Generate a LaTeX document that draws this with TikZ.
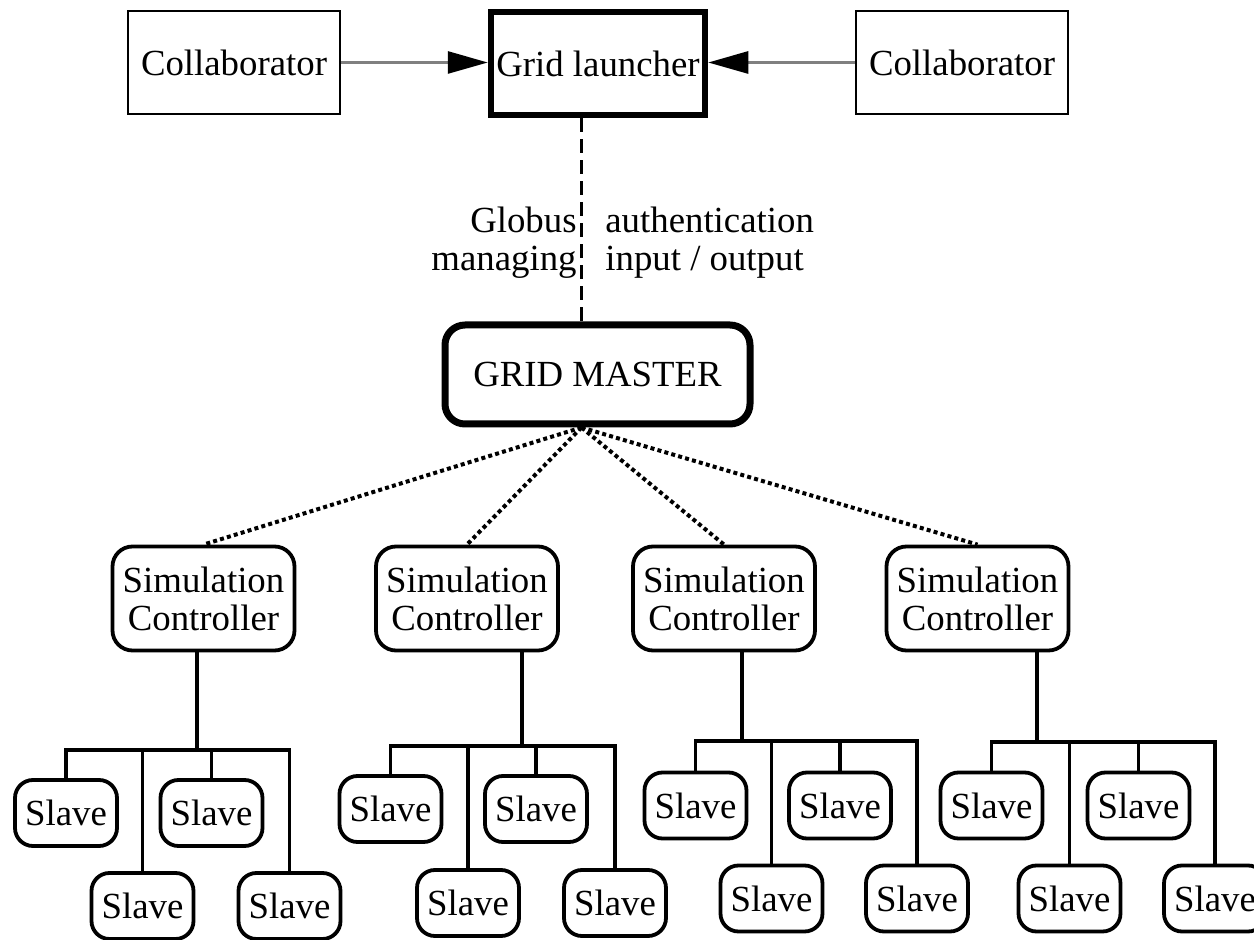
\documentclass[tikz,border=0pt]{standalone}
\usepackage{fontspec}
\setmainfont{Liberation Serif}
\usetikzlibrary{arrows.meta}

\tikzset{
    box/.style={draw, line width=1.25pt, minimum width=106pt, minimum height=51.5pt, inner sep=1pt},
    rbox/.style={draw, rounded corners=10pt, line width=1.9pt, minimum width=91pt, minimum height=52pt, inner sep=1pt, align=center},
    slavebox/.style={draw, rounded corners=9pt, line width=1.9pt, minimum width=51pt, minimum height=33pt, inner sep=1pt},
    link/.style={line width=1.9pt},
    dotlink/.style={line width=2pt, dash pattern=on 2pt off 1.6pt},
}

\begin{document}
\begin{tikzpicture}[x=0.5pt,y=-0.5pt,font=\fontsize{18.4}{19}\selectfont,>={Triangle[length=20pt,width=11pt,color=black]}]
        % fix the frame
        \path[use as bounding box,clip] (0,0) rectangle (1254,940);

        % draw the launcher and the collaborators
        \node[box] (collabL) at (234,62.5) {Collaborator};
        \node[box,line width=3.25pt,minimum width=107pt] (launcher) at (598,63.5) {Grid launcher};
        \node[box] (collabR) at (962,62.5) {Collaborator};
        \draw[->,gray,line width=1.4pt] (collabL.east) -- (collabL.east -| launcher.west);
        \draw[->,gray,line width=1.4pt] (collabR.west) -- (collabR.west -| launcher.east);

        % draw the master and the globus link
        \node[rbox,line width=3.5pt,minimum width=152.5pt,minimum height=49.5pt] (master) at (597.5,374.5) {GRID MASTER};
        \coordinate (hub) at ([xshift=-8pt]master.south);
        \draw[link,dash pattern=on 7pt off 3.5pt] (launcher.south -| hub) -- (master.north -| hub);
        \node[anchor=east,align=right,inner sep=0pt] (globus) at (577,243) {Globus\\managing};
        \node[anchor=west,align=left,inner sep=0pt] (auth) at (605,243) {authentication\\input / output};

        \foreach \n/\x in {1/203.5, 2/467, 3/724, 4/977.5} {
                % controllers below the master
                \node[rbox] (ctrl\n) at (\x,598.5) {Simulation\\Controller};
                \draw[dotlink] (hub) -- (ctrl\n.north);
        }

        % draw the slaves of each controller
        \foreach \n/\t/\b/\u/\l/\xa/\xb/\xc/\xd in {
            1/197/750/813/906/66/211.5/142.5/289.5,
            2/522/746/809/903/390.5/536/468/615,
            3/742/741/805.5/898.5/695.5/840/771.5/917,
            4/1037/742/805.5/898.5/991.5/1138.5/1069.5/1215} {
                \coordinate (join\n) at (\t,\b);
                \node[slavebox] (slave-\n-a) at (\xa,\u) {Slave};
                \node[slavebox] (slave-\n-b) at (\xb,\u) {Slave};
                \node[slavebox] (slave-\n-c) at (\xc,\l) {Slave};
                \node[slavebox] (slave-\n-d) at (\xd,\l) {Slave};
                \draw[link] (ctrl\n.south -| join\n) -- (join\n);
                \draw[link] (slave-\n-a.north) -- (slave-\n-a.north |- join\n) -- (slave-\n-d.north |- join\n) -- (slave-\n-d.north);
                \draw[link] (slave-\n-b.north) -- (slave-\n-b.north |- join\n);
                \draw[link] (slave-\n-c.north) -- (slave-\n-c.north |- join\n);
        }
\end{tikzpicture}
\end{document}
